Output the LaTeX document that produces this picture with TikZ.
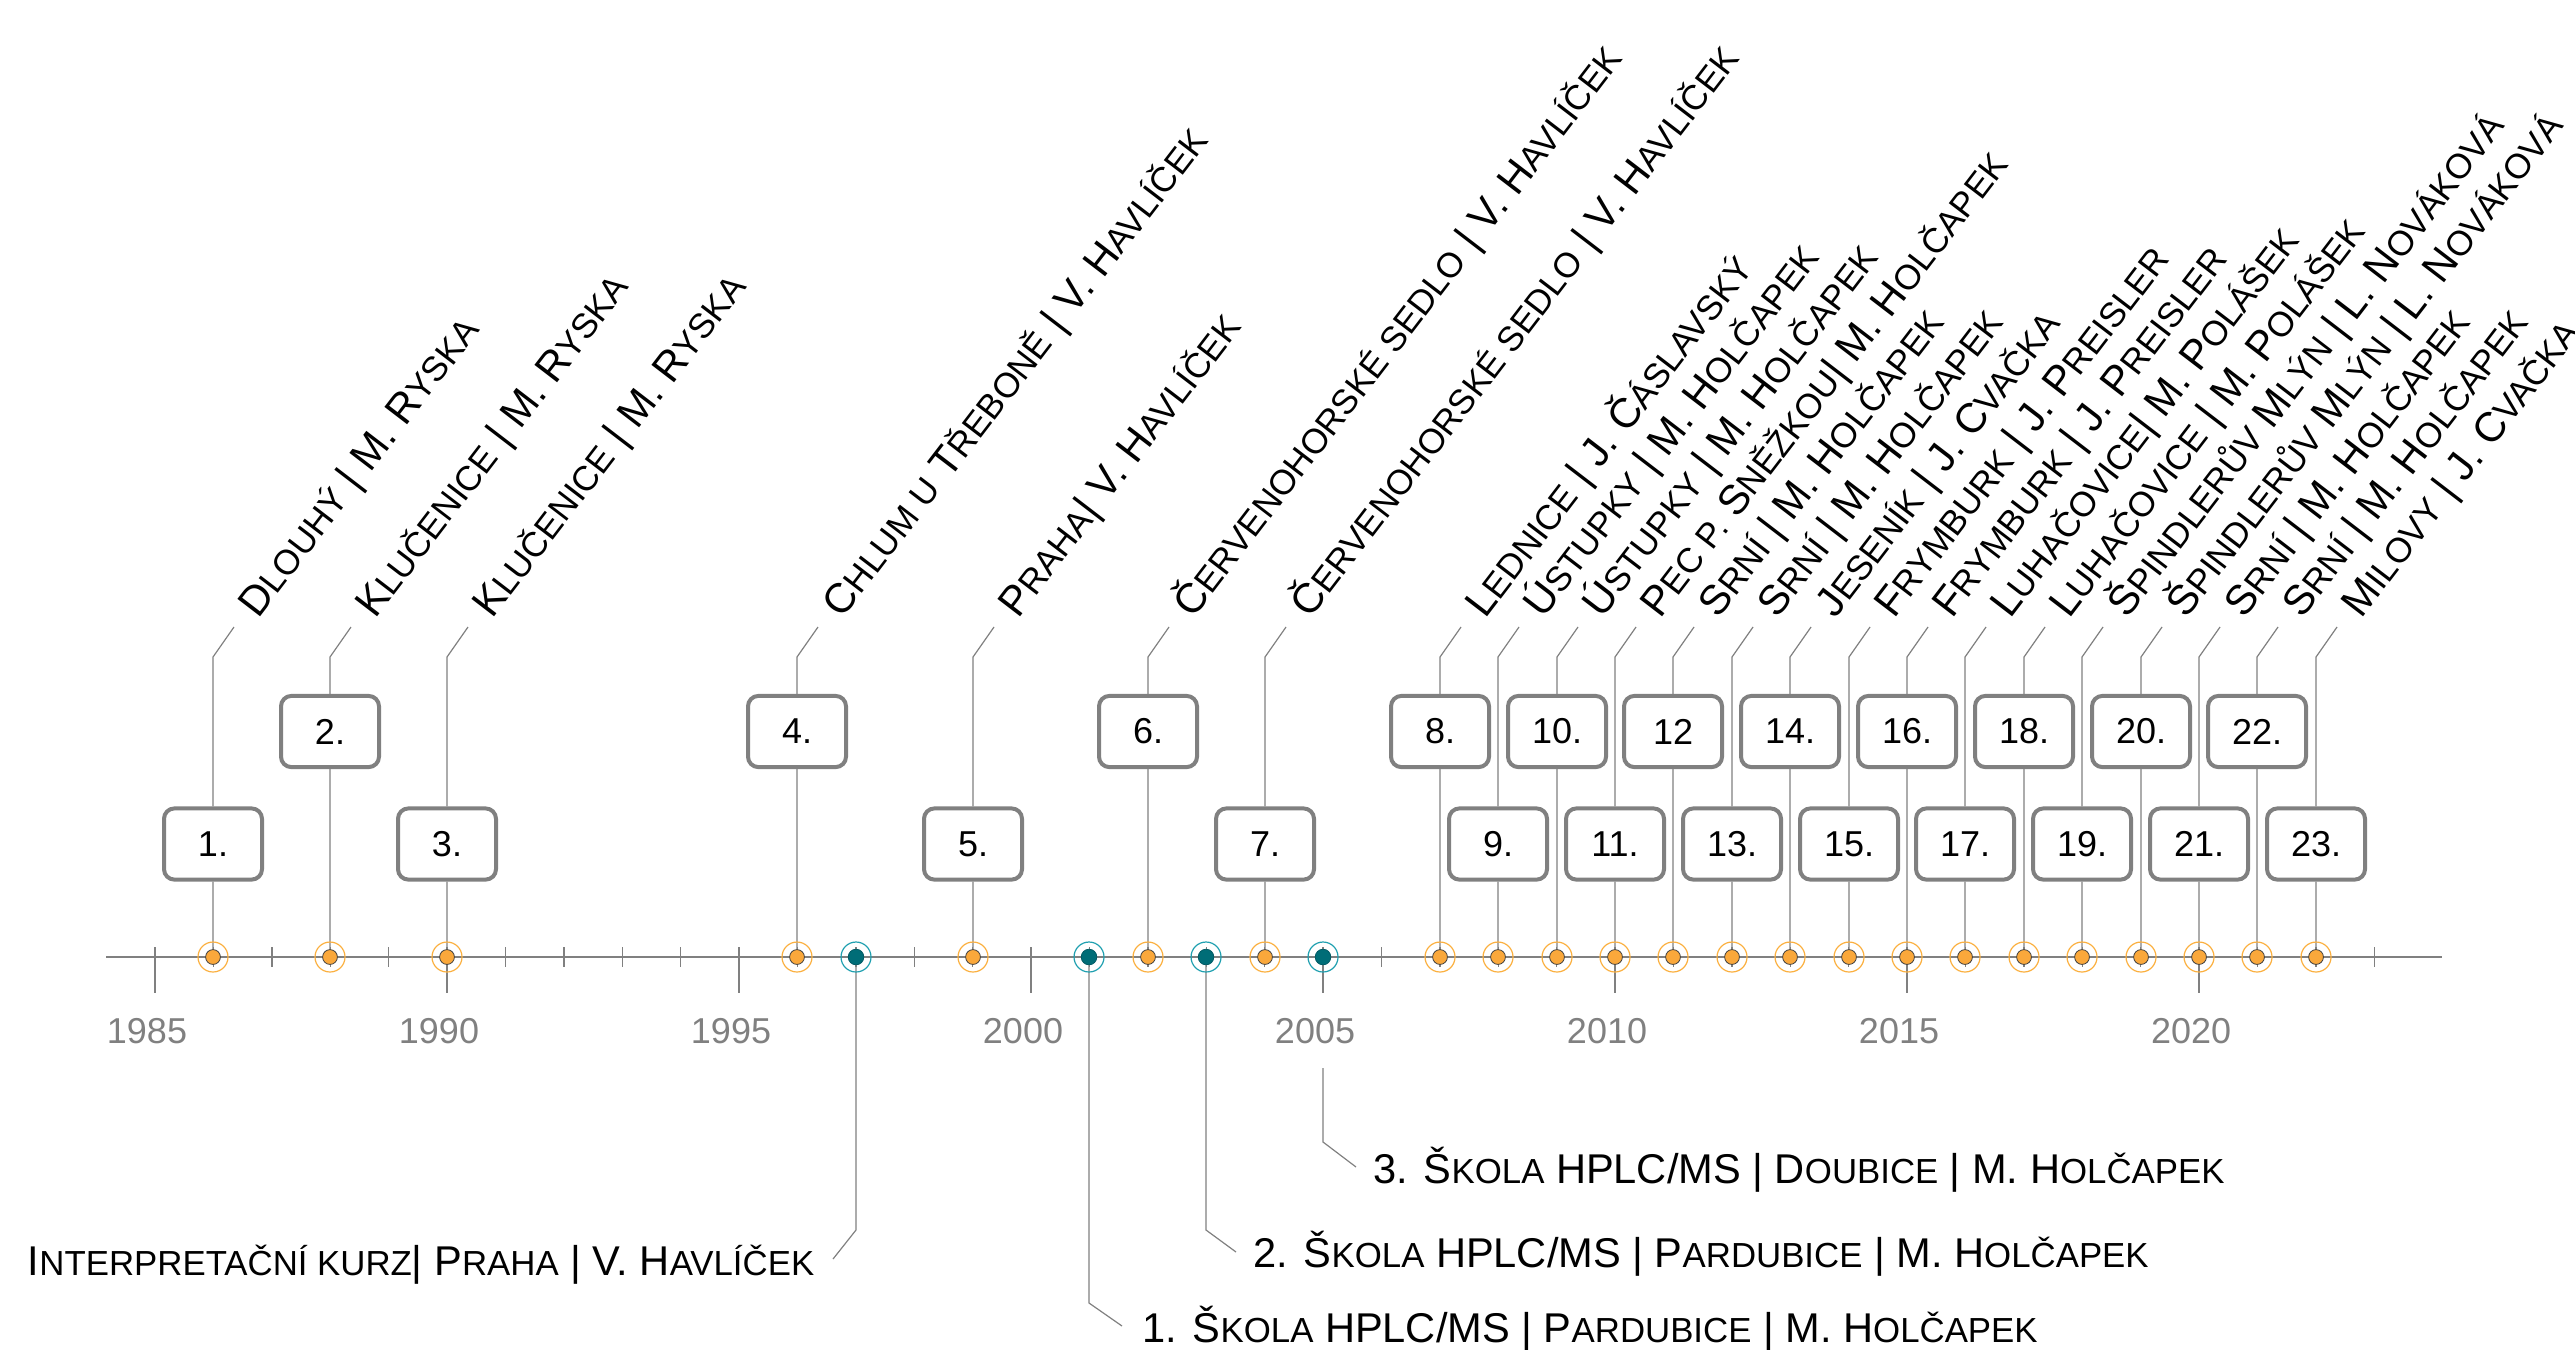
\documentclass[tikz,border=0pt]{standalone}
\usepackage{fontspec}
\setmainfont{Liberation Sans}
\newcommand{\smc}[1]{{\fontsize{8.7pt}{9pt}\selectfont #1}}
\begin{document}
\begin{tikzpicture}[x=0.25pt,y=0.25pt,yscale=-1,xscale=1,
  gridline/.style={color={rgb, 255:red, 128; green, 128; blue, 128}, line width=0.35pt},
  conn/.style={color={rgb, 255:red, 128; green, 128; blue, 128}, line width=0.3pt},
  numbox/.style={draw={rgb, 255:red, 128; green, 128; blue, 128}, line width=1pt, rounded corners=2.6pt, fill=white, minimum width=24.5pt, minimum height=17.8pt, inner sep=0pt, font=\fontsize{9pt}{10pt}\selectfont},
  orangedot/.style={circle, draw={rgb, 255:red, 64; green, 64; blue, 64}, line width=0.2pt, fill={rgb, 255:red, 250; green, 168; blue, 59}, minimum size=3.7pt, inner sep=0pt},
  orangering/.style={draw={rgb, 255:red, 251; green, 176; blue, 64}, line width=0.3pt},
  tealdot/.style={circle, draw={rgb, 255:red, 0; green, 90; blue, 100}, line width=0.2pt, fill={rgb, 255:red, 0; green, 109; blue, 119}, minimum size=3.9pt, inner sep=0pt},
  tealring/.style={draw={rgb, 255:red, 32; green, 160; blue, 176}, line width=0.3pt},
  yearlab/.style={color={rgb, 255:red, 128; green, 128; blue, 128}, font=\fontsize{9pt}{10pt}\selectfont, inner sep=0pt},
  toplab/.style={rotate=52.5, anchor=base west, inner sep=0pt, font=\fontsize{10.4pt}{12pt}\selectfont},
  botlab/.style={inner sep=0pt, font=\fontsize{10.4pt}{12pt}\selectfont}]
\useasboundingbox (0,0) rectangle (2575,1349);

% Axis
\coordinate (axl) at (106,957); \coordinate (axr) at (2442,957);
\draw[gridline] (axl) -- (axr);
\foreach \yr in {1985,...,2023} \draw[gridline] ({155+(\yr-1985)*58.4},947) -- ++(0,20);
\foreach \yr in {1985,1990,...,2020} {
  \draw[gridline] ({155+(\yr-1985)*58.4},947) -- ++(0,46);
  \node[yearlab] (y\yr) at ({147+(\yr-1985)*58.4},1031) {\yr};
}

% Event 1
\coordinate (p1) at (213,957); \coordinate (k1) at (213,657); \coordinate (e1) at (234,627);
\node[numbox] (b1) at (213,844) {1.};
\draw[conn] (p1) -- (b1) -- (k1) -- (e1);
\node[toplab] (l1) at (258,620) {D\smc{LOUHÝ} | M. R\smc{YSKA}};
% Event 2
\coordinate (p2) at (330,957); \coordinate (k2) at (330,657); \coordinate (e2) at (351,627);
\node[numbox] (b2) at (330,731.5) {2.};
\draw[conn] (p2) -- (b2) -- (k2) -- (e2);
\node[toplab] (l2) at (375,620) {K\smc{LUČENICE} | M. R\smc{YSKA}};
% Event 3
\coordinate (p3) at (447,957); \coordinate (k3) at (447,657); \coordinate (e3) at (468,627);
\node[numbox] (b3) at (447,844) {3.};
\draw[conn] (p3) -- (b3) -- (k3) -- (e3);
\node[toplab] (l3) at (492,620) {K\smc{LUČENICE} | M. R\smc{YSKA}};
% Event 4
\coordinate (p4) at (797,957); \coordinate (k4) at (797,657); \coordinate (e4) at (818,627);
\node[numbox] (b4) at (797,731.5) {4.};
\draw[conn] (p4) -- (b4) -- (k4) -- (e4);
\node[toplab] (l4) at (842,620) {C\smc{HLUM U} T\smc{ŘEBONĚ} | V. H\smc{AVLÍČEK}};
% Event 5
\coordinate (p5) at (973,957); \coordinate (k5) at (973,657); \coordinate (e5) at (994,627);
\node[numbox] (b5) at (973,844) {5.};
\draw[conn] (p5) -- (b5) -- (k5) -- (e5);
\node[toplab] (l5) at (1018,620) {P\smc{RAHA}| V. H\smc{AVLÍČEK}};
% Event 6
\coordinate (p6) at (1148,957); \coordinate (k6) at (1148,657); \coordinate (e6) at (1169,627);
\node[numbox] (b6) at (1148,731.5) {6.};
\draw[conn] (p6) -- (b6) -- (k6) -- (e6);
\node[toplab] (l6) at (1193,620) {Č\smc{ERVENOHORSKÉ SEDLO} | V. H\smc{AVLÍČEK}};
% Event 7
\coordinate (p7) at (1265,957); \coordinate (k7) at (1265,657); \coordinate (e7) at (1286,627);
\node[numbox] (b7) at (1265,844) {7.};
\draw[conn] (p7) -- (b7) -- (k7) -- (e7);
\node[toplab] (l7) at (1310,620) {Č\smc{ERVENOHORSKÉ SEDLO} | V. H\smc{AVLÍČEK}};
% Event 8
\coordinate (p8) at (1440,957); \coordinate (k8) at (1440,657); \coordinate (e8) at (1461,627);
\node[numbox] (b8) at (1440,731.5) {8.};
\draw[conn] (p8) -- (b8) -- (k8) -- (e8);
\node[toplab] (l8) at (1485,620) {L\smc{EDNICE} | J. Č\smc{ÁSLAVSKÝ}};
% Event 9
\coordinate (p9) at (1498,957); \coordinate (k9) at (1498,657); \coordinate (e9) at (1519,627);
\node[numbox] (b9) at (1498,844) {9.};
\draw[conn] (p9) -- (b9) -- (k9) -- (e9);
\node[toplab] (l9) at (1543,620) {Ú\smc{STUPKY} | M. H\smc{OLČAPEK}};
% Event 10
\coordinate (p10) at (1557,957); \coordinate (k10) at (1557,657); \coordinate (e10) at (1578,627);
\node[numbox] (b10) at (1557,731.5) {10.};
\draw[conn] (p10) -- (b10) -- (k10) -- (e10);
\node[toplab] (l10) at (1602,620) {Ú\smc{STUPKY} | M. H\smc{OLČAPEK}};
% Event 11
\coordinate (p11) at (1615,957); \coordinate (k11) at (1615,657); \coordinate (e11) at (1636,627);
\node[numbox] (b11) at (1615,844) {11.};
\draw[conn] (p11) -- (b11) -- (k11) -- (e11);
\node[toplab] (l11) at (1660,620) {P\smc{EC P.} S\smc{NĚŽKOU}| M. H\smc{OLČAPEK}};
% Event 12
\coordinate (p12) at (1673,957); \coordinate (k12) at (1673,657); \coordinate (e12) at (1694,627);
\node[numbox] (b12) at (1673,731.5) {12};
\draw[conn] (p12) -- (b12) -- (k12) -- (e12);
\node[toplab] (l12) at (1718,620) {S\smc{RNÍ} | M. H\smc{OLČAPEK}};
% Event 13
\coordinate (p13) at (1732,957); \coordinate (k13) at (1732,657); \coordinate (e13) at (1753,627);
\node[numbox] (b13) at (1732,844) {13.};
\draw[conn] (p13) -- (b13) -- (k13) -- (e13);
\node[toplab] (l13) at (1777,620) {S\smc{RNÍ} | M. H\smc{OLČAPEK}};
% Event 14
\coordinate (p14) at (1790,957); \coordinate (k14) at (1790,657); \coordinate (e14) at (1811,627);
\node[numbox] (b14) at (1790,731.5) {14.};
\draw[conn] (p14) -- (b14) -- (k14) -- (e14);
\node[toplab] (l14) at (1835,620) {J\smc{ESENÍK} | J. C\smc{VAČKA}};
% Event 15
\coordinate (p15) at (1849,957); \coordinate (k15) at (1849,657); \coordinate (e15) at (1870,627);
\node[numbox] (b15) at (1849,844) {15.};
\draw[conn] (p15) -- (b15) -- (k15) -- (e15);
\node[toplab] (l15) at (1894,620) {F\smc{RYMBURK} | J. P\smc{REISLER}};
% Event 16
\coordinate (p16) at (1907,957); \coordinate (k16) at (1907,657); \coordinate (e16) at (1928,627);
\node[numbox] (b16) at (1907,731.5) {16.};
\draw[conn] (p16) -- (b16) -- (k16) -- (e16);
\node[toplab] (l16) at (1952,620) {F\smc{RYMBURK} | J. P\smc{REISLER}};
% Event 17
\coordinate (p17) at (1965,957); \coordinate (k17) at (1965,657); \coordinate (e17) at (1986,627);
\node[numbox] (b17) at (1965,844) {17.};
\draw[conn] (p17) -- (b17) -- (k17) -- (e17);
\node[toplab] (l17) at (2010,620) {L\smc{UHAČOVICE}| M. P\smc{OLÁŠEK}};
% Event 18
\coordinate (p18) at (2024,957); \coordinate (k18) at (2024,657); \coordinate (e18) at (2045,627);
\node[numbox] (b18) at (2024,731.5) {18.};
\draw[conn] (p18) -- (b18) -- (k18) -- (e18);
\node[toplab] (l18) at (2069,620) {L\smc{UHAČOVICE} | M. P\smc{OLÁŠEK}};
% Event 19
\coordinate (p19) at (2082,957); \coordinate (k19) at (2082,657); \coordinate (e19) at (2103,627);
\node[numbox] (b19) at (2082,844) {19.};
\draw[conn] (p19) -- (b19) -- (k19) -- (e19);
\node[toplab] (l19) at (2127,620) {Š\smc{PINDLERŮV} M\smc{LÝN} | L. N\smc{OVÁKOVÁ}};
% Event 20
\coordinate (p20) at (2141,957); \coordinate (k20) at (2141,657); \coordinate (e20) at (2162,627);
\node[numbox] (b20) at (2141,731.5) {20.};
\draw[conn] (p20) -- (b20) -- (k20) -- (e20);
\node[toplab] (l20) at (2186,620) {Š\smc{PINDLERŮV} M\smc{LÝN} | L. N\smc{OVÁKOVÁ}};
% Event 21
\coordinate (p21) at (2199,957); \coordinate (k21) at (2199,657); \coordinate (e21) at (2220,627);
\node[numbox] (b21) at (2199,844) {21.};
\draw[conn] (p21) -- (b21) -- (k21) -- (e21);
\node[toplab] (l21) at (2244,620) {S\smc{RNÍ} | M. H\smc{OLČAPEK}};
% Event 22
\coordinate (p22) at (2257,957); \coordinate (k22) at (2257,657); \coordinate (e22) at (2278,627);
\node[numbox] (b22) at (2257,731.5) {22.};
\draw[conn] (p22) -- (b22) -- (k22) -- (e22);
\node[toplab] (l22) at (2302,620) {S\smc{RNÍ} | M. H\smc{OLČAPEK}};
% Event 23
\coordinate (p23) at (2316,957); \coordinate (k23) at (2316,657); \coordinate (e23) at (2337,627);
\node[numbox] (b23) at (2316,844) {23.};
\draw[conn] (p23) -- (b23) -- (k23) -- (e23);
\node[toplab] (l23) at (2361,620) {M\smc{ILOVY} | J. C\smc{VAČKA}};

% Schools below the axis
\coordinate (s1) at (856,957); \coordinate (sk1) at (856,1230); \coordinate (se1) at (833,1259);
\draw[conn] (s1) -- (sk1) -- (se1);
\node[botlab, anchor=base east] (sl1) at (815,1275) {I\smc{NTERPRETAČNÍ KURZ}| P\smc{RAHA} | V. H\smc{AVLÍČEK}};
\coordinate (s2) at (1089,957); \coordinate (sk2) at (1089,1303); \coordinate (se2) at (1122,1326);
\draw[conn] (s2) -- (sk2) -- (se2);
\node[botlab, anchor=base west] (sl2) at (1142,1342) {1. Š\smc{KOLA} HPLC/MS | P\smc{ARDUBICE} | M. H\smc{OLČAPEK}};
\coordinate (s3) at (1206,957); \coordinate (sk3) at (1206,1230); \coordinate (se3) at (1236,1252);
\draw[conn] (s3) -- (sk3) -- (se3);
\node[botlab, anchor=base west] (sl3) at (1253,1267) {2. Š\smc{KOLA} HPLC/MS | P\smc{ARDUBICE} | M. H\smc{OLČAPEK}};
\coordinate (s4) at (1323,957); \coordinate (st4) at (1323,1068); \coordinate (sk4) at (1323,1142); \coordinate (se4) at (1356,1167);
\draw[conn] (st4) -- (sk4) -- (se4);
\node[botlab, anchor=base west] (sl4) at (1373,1183) {3. Š\smc{KOLA} HPLC/MS | D\smc{OUBICE} | M. H\smc{OLČAPEK}};

% Dots
\foreach \i in {1,...,23} {
  \draw[orangering] (p\i) circle (15);
  \node[orangedot] (d\i) at (p\i) {};
}
\foreach \i in {1,...,4} {
  \draw[tealring] (s\i) circle (15);
  \node[tealdot] (t\i) at (s\i) {};
}
\end{tikzpicture}
\end{document}
